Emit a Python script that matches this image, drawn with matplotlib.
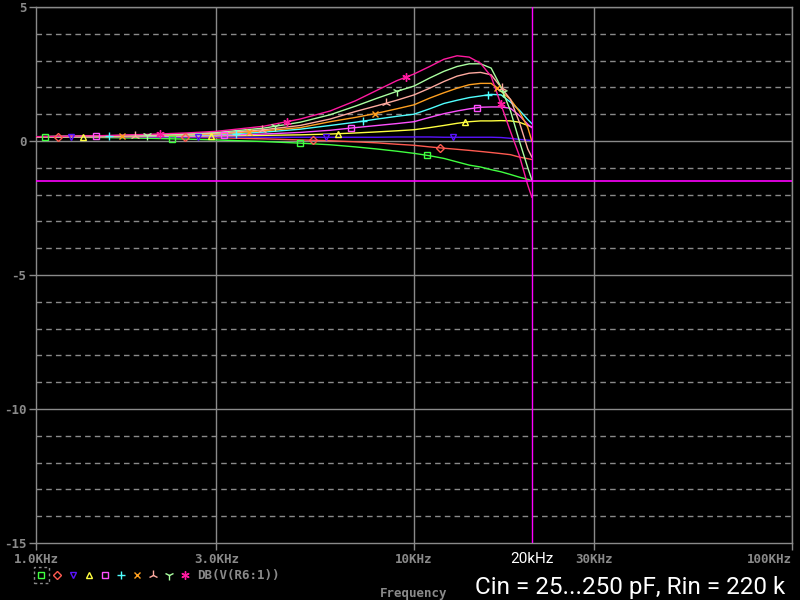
import matplotlib.pyplot as plt
import numpy as np
from matplotlib.lines import Line2D
from matplotlib.patches import Rectangle

# frequency points (kHz) and gain (dB) for Cin = 25 ... 250 pF
freq_khz = [1, 1.5, 2, 2.5, 3, 4, 5, 6, 7, 8, 9, 10, 11, 12, 13, 14, 15, 16, 17, 18, 19, 20, 20.5]

db_25p = [0.15, 0.13, 0.10, 0.07, 0.04, -0.02, -0.08, -0.14, -0.22, -0.30, -0.38, -0.46,
          -0.55, -0.65, -0.78, -0.90, -0.97, -1.07, -1.15, -1.25, -1.35, -1.43, -1.48]
db_50p = [0.16, 0.16, 0.15, 0.14, 0.12, 0.08, 0.04, 0.01, -0.03, -0.07, -0.12, -0.16,
          -0.22, -0.27, -0.31, -0.35, -0.39, -0.43, -0.47, -0.51, -0.60, -0.66, -0.69]
db_75p = [0.16, 0.16, 0.15, 0.15, 0.15, 0.14, 0.14, 0.14, 0.14, 0.14, 0.15, 0.15,
          0.15, 0.14, 0.14, 0.14, 0.14, 0.14, 0.13, 0.10, 0.06, 0.03, 0.02]
db_100p = [0.16, 0.16, 0.17, 0.18, 0.19, 0.21, 0.23, 0.26, 0.30, 0.34, 0.38, 0.42,
           0.50, 0.58, 0.66, 0.72, 0.75, 0.75, 0.76, 0.75, 0.70, 0.58, 0.52]
db_125p = [0.16, 0.17, 0.18, 0.19, 0.21, 0.26, 0.32, 0.40, 0.50, 0.58, 0.65, 0.72,
           0.88, 1.02, 1.12, 1.20, 1.26, 1.27, 1.27, 1.22, 0.95, 0.62, 0.50]
db_150p = [0.16, 0.17, 0.19, 0.21, 0.24, 0.33, 0.44, 0.58, 0.70, 0.82, 0.92, 1.00,
           1.20, 1.40, 1.52, 1.62, 1.68, 1.74, 1.72, 1.45, 1.15, 0.80, 0.65]
db_175p = [0.16, 0.17, 0.20, 0.23, 0.26, 0.38, 0.50, 0.72, 0.88, 1.04, 1.20, 1.35,
           1.60, 1.80, 1.97, 2.10, 2.15, 2.15, 1.85, 1.55, 1.10, 0.50, 0.00]
db_200p = [0.16, 0.18, 0.21, 0.25, 0.29, 0.42, 0.58, 0.82, 1.10, 1.32, 1.52, 1.72,
           1.97, 2.22, 2.42, 2.53, 2.56, 2.47, 2.00, 1.55, 0.70, -0.30, -0.60]
db_225p = [0.16, 0.19, 0.23, 0.27, 0.32, 0.48, 0.70, 0.98, 1.30, 1.60, 1.85, 2.05,
           2.35, 2.60, 2.78, 2.88, 2.88, 2.72, 2.00, 1.12, 0.00, -1.00, -1.45]
db_250p = [0.16, 0.20, 0.25, 0.30, 0.36, 0.55, 0.82, 1.12, 1.50, 1.90, 2.25, 2.50,
           2.78, 3.05, 3.18, 3.13, 2.90, 2.41, 1.35, 0.35, -0.55, -1.65, -2.10]

series = [db_25p, db_50p, db_75p, db_100p, db_125p, db_150p, db_175p, db_200p, db_225p, db_250p]
colors = ['#40ff40', '#ff5a50', '#5a14ff', '#ffff40', '#ff50ff',
          '#50ffff', '#ffa020', '#ffaaa0', '#aaffa0', '#ff1aa0']
markers = ['s', 'D', 'v', '^', 's', '+', 'x', '2', '1', (6, 2, 0)]
msizes = [5, 4, 5, 5, 5, 6, 5, 7, 7, 6]

x_ticks = [1e3, 3e3, 1e4, 3e4, 1e5]
x_labels = ['1.0KHz', '3.0KHz', '10KHz', '30KHz', '100KHz']
y_ticks = [5, 0, -5, -10, -15]
cursor_khz = freq_khz[-1]
cursor_db = db_25p[-1]

grey = '#8a8a8a'
mono = 'DejaVu Sans Mono'

fig = plt.figure(figsize=(8, 6), dpi=100, facecolor='black')
ax = fig.add_axes([36 / 800, 1 - 543 / 600, 756 / 800, 536 / 600])
ax.set_facecolor('black')
ax.set_xscale('log')
ax.set_xlim(1e3, 1e5)
ax.set_ylim(-15, 5)

# grid
for v in range(-14, 5):
    if v % 5 != 0:
        ax.axhline(v, color=grey, lw=1, ls=(0, (4, 3)), zorder=1)
for v in [0, -5, -10, 5]:
    ax.axhline(v, color=grey, lw=1, zorder=1)
for f in [3e3, 1e4, 3e4, 1e5]:
    ax.axvline(f, color=grey, lw=1, zorder=1)

for s in ax.spines.values():
    s.set_color(grey)
    s.set_linewidth(1)

ax.set_xticks(x_ticks)
ax.set_xticklabels(x_labels)
ax.xaxis.set_minor_locator(plt.NullLocator())
ax.set_yticks(y_ticks)
ax.set_yticklabels([str(v) for v in y_ticks])
ax.tick_params(colors=grey, length=5, width=1, direction='out', pad=2)
for lab in ax.get_xticklabels() + ax.get_yticklabels():
    lab.set_fontfamily(mono)
    lab.set_fontweight('bold')
    lab.set_fontsize(9)
    lab.set_color(grey)
ax.get_xticklabels()[-1].set_horizontalalignment('right')
ax.set_xlabel('Frequency', color=grey, fontfamily=mono, fontweight='bold',
              fontsize=9, labelpad=15)

fhz = np.array(freq_khz) * 1e3
for i, vals in enumerate(series):
    ax.plot(fhz, vals, color=colors[i], lw=1, zorder=3)
    # markers spaced along the drawn curve (display distance)
    pts = ax.transData.transform(np.column_stack([fhz, vals]))
    seg = np.hypot(np.diff(pts[:, 0]), np.diff(pts[:, 1]))
    s = np.concatenate([[0], np.cumsum(seg)])
    t = np.arange(9 + 12.8 * i, s[-1] - 3, 127.5)
    mp = np.column_stack([np.interp(t, s, pts[:, 0]), np.interp(t, s, pts[:, 1])])
    md = ax.transData.inverted().transform(mp)
    ax.plot(md[:, 0], md[:, 1], ls='none', marker=markers[i], ms=msizes[i],
            mfc='none', mec=colors[i], mew=1, zorder=4)

# cursor
ax.axvline(cursor_khz * 1e3, color='#ff00ff', lw=1, zorder=5)
ax.axhline(cursor_db, color='#ff00ff', lw=1.2, zorder=5)
ax.text(cursor_khz * 1e3, -15.35, '20kHz', color='white', fontsize=11,
        fontfamily='Roboto', ha='center', va='top')

# legend row
for i in range(10):
    fig.add_artist(Line2D([(41 + 16 * i) / 800], [1 - 575 / 600], transform=fig.transFigure,
                          ls='none', marker=markers[i], ms=msizes[i], mfc='none',
                          mec=colors[i], mew=1))
fig.add_artist(Rectangle((34 / 800, 1 - 583 / 600), 15 / 800, 16 / 600, transform=fig.transFigure,
                         fill=False, ec=grey, lw=1, ls=(0, (2, 2))))
fig.text(197 / 800, 1 - 575 / 600, 'DB(V(R6:1))', color=grey, fontfamily=mono,
         fontweight='bold', fontsize=9, va='center', ha='left')

fig.text(785 / 800, 1 - 594 / 600, 'Cin = 25...250 pF, Rin = 220 k', color='white',
         fontfamily='Roboto', fontsize=17.5, ha='right', va='baseline')

fig.savefig('out.png', dpi=100, facecolor='black')
